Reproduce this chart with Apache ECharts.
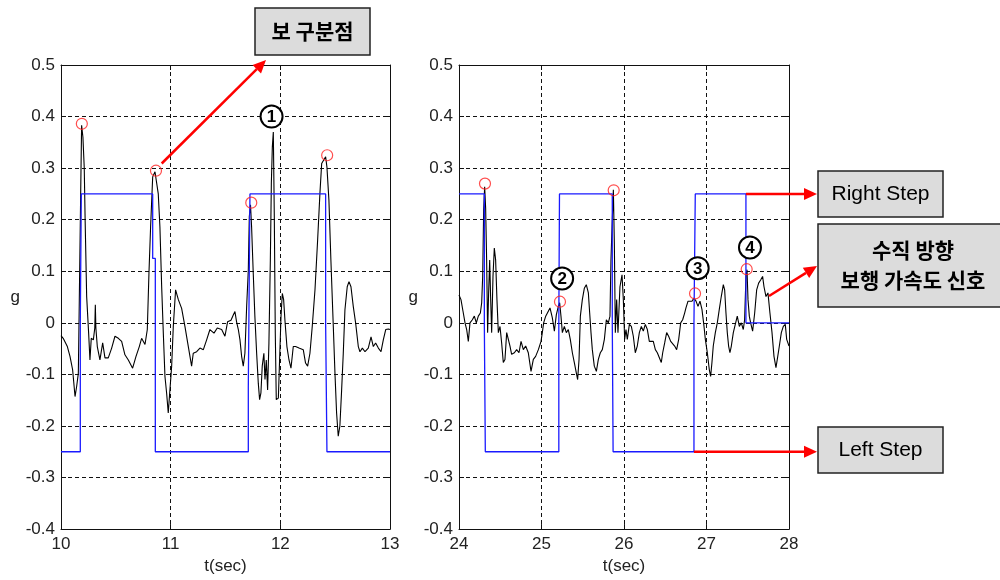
<!DOCTYPE html>
<html>
<head>
<meta charset="utf-8">
<script src="https://cdn.jsdelivr.net/npm/echarts@6/dist/echarts.min.js"></script>
<style>
html,body{margin:0;padding:0;background:#fff;}
#chart{width:1000px;height:580px;}
</style>
</head>
<body>
<div id="chart"></div>
<script>
// ---------- DATA ----------
const yTicks = [-0.4, -0.3, -0.2, -0.1, 0, 0.1, 0.2, 0.3, 0.4, 0.5];
const leftXRange = [10, 13];
const rightXRange = [24, 28];

// vertical walking acceleration signal, left panel (t, g)
const leftT = [10.0,10.02,10.036,10.058,10.082,10.106,10.128,10.143,10.158,10.167,10.179,10.188,10.2,10.212,10.22,10.234,10.252,10.264,10.276,10.295,10.308,10.313,10.318,10.331,10.355,10.38,10.401,10.431,10.462,10.492,10.523,10.553,10.583,10.614,10.653,10.684,10.714,10.735,10.766,10.787,10.802,10.817,10.836,10.857,10.866,10.875,10.887,10.902,10.918,10.933,10.948,10.963,10.978,10.994,11.009,11.024,11.045,11.07,11.1,11.13,11.161,11.191,11.206,11.237,11.267,11.298,11.328,11.358,11.395,11.425,11.465,11.495,11.519,11.55,11.571,11.586,11.601,11.617,11.632,11.647,11.662,11.677,11.693,11.708,11.717,11.728,11.738,11.753,11.768,11.784,11.799,11.811,11.823,11.835,11.85,11.86,11.872,11.884,11.896,11.909,11.918,11.927,11.936,11.945,11.954,11.963,11.982,11.997,12.006,12.018,12.03,12.042,12.06,12.079,12.097,12.118,12.139,12.17,12.209,12.23,12.249,12.27,12.291,12.316,12.34,12.361,12.377,12.395,12.413,12.425,12.443,12.461,12.483,12.498,12.513,12.528,12.543,12.559,12.574,12.589,12.61,12.626,12.644,12.665,12.687,12.711,12.726,12.748,12.772,12.802,12.827,12.848,12.869,12.894,12.918,12.939,12.961,12.985,13.0];
const leftG = [-0.025,-0.03,-0.028,-0.046,-0.065,-0.091,-0.143,-0.123,-0.098,0.045,0.244,0.383,0.36,0.3,0.2,0.051,-0.02,-0.072,-0.03,-0.033,-0.01,0.035,-0.01,-0.046,-0.072,-0.039,-0.068,-0.068,-0.049,-0.026,-0.03,-0.036,-0.062,-0.072,-0.088,-0.065,-0.046,-0.03,-0.042,-0.013,0.096,0.186,0.283,0.293,0.296,0.29,0.25,0.186,0.07,-0.02,-0.104,-0.136,-0.175,-0.178,-0.084,-0.007,0.064,0.045,0.028,-0.007,-0.046,-0.084,-0.059,-0.056,-0.049,-0.052,-0.033,-0.013,-0.02,-0.01,-0.013,-0.026,0.002,0.005,0.015,0.022,0.002,-0.013,-0.033,-0.065,-0.084,-0.059,0.032,0.102,0.206,0.229,0.186,0.096,0.012,-0.059,-0.117,-0.149,-0.136,-0.084,-0.059,-0.11,-0.072,-0.13,-0.039,0.122,0.27,0.341,0.37,0.206,-0.02,-0.149,-0.146,-0.146,0.012,0.057,0.045,0.005,-0.046,-0.072,-0.088,-0.046,-0.046,-0.049,-0.052,-0.078,-0.084,-0.059,-0.007,0.064,0.16,0.251,0.309,0.309,0.322,0.302,0.238,0.122,-0.007,-0.097,-0.175,-0.22,-0.2,-0.13,-0.059,0.025,0.07,0.08,0.07,0.032,-0.001,-0.046,-0.056,-0.049,-0.056,-0.049,-0.027,-0.046,-0.039,-0.049,-0.056,-0.033,-0.013,-0.012,-0.013];

// vertical walking acceleration signal, right panel (t, g)
const rightT = [24.0,24.024,24.048,24.073,24.093,24.113,24.133,24.162,24.186,24.21,24.234,24.259,24.275,24.287,24.299,24.311,24.323,24.335,24.347,24.359,24.372,24.384,24.396,24.412,24.428,24.444,24.46,24.477,24.497,24.517,24.537,24.557,24.578,24.598,24.618,24.638,24.671,24.699,24.727,24.752,24.78,24.808,24.84,24.873,24.901,24.929,24.962,24.994,25.01,25.026,25.051,25.075,25.103,25.131,25.156,25.18,25.204,25.22,25.236,25.253,25.277,25.301,25.325,25.349,25.374,25.398,25.422,25.438,25.455,25.471,25.495,25.519,25.543,25.568,25.584,25.6,25.616,25.64,25.665,25.689,25.713,25.737,25.762,25.786,25.81,25.83,25.842,25.855,25.871,25.883,25.895,25.911,25.927,25.951,25.976,25.992,26.008,26.024,26.04,26.065,26.089,26.113,26.137,26.161,26.186,26.21,26.234,26.258,26.283,26.307,26.331,26.355,26.38,26.404,26.428,26.452,26.469,26.493,26.517,26.541,26.566,26.59,26.614,26.638,26.663,26.687,26.711,26.735,26.751,26.776,26.8,26.824,26.848,26.873,26.897,26.921,26.945,26.97,26.986,27.01,27.034,27.05,27.066,27.082,27.107,27.131,27.155,27.179,27.204,27.22,27.236,27.252,27.268,27.284,27.301,27.325,27.349,27.373,27.398,27.422,27.446,27.462,27.479,27.491,27.503,27.519,27.535,27.559,27.584,27.608,27.632,27.656,27.68,27.697,27.721,27.745,27.769,27.794,27.818,27.842,27.858,27.883,27.907,27.931,27.955,27.972,28.0];
const rightG = [0.054,0.045,0.023,0.0,-0.013,-0.036,0.0,0.006,0.013,0.0,0.013,0.019,0.039,0.09,0.219,0.264,0.222,0.122,-0.019,0.058,0.122,0.045,-0.019,0.09,0.145,0.122,0.045,-0.019,-0.007,-0.039,-0.077,-0.071,-0.019,-0.019,-0.045,-0.061,-0.058,-0.052,-0.058,-0.036,-0.052,-0.045,-0.058,-0.094,-0.071,-0.065,-0.052,-0.036,-0.019,0.0,0.013,0.013,0.029,0.01,-0.016,0.016,0.032,0.039,0.013,-0.019,-0.007,-0.019,-0.013,-0.032,-0.058,-0.077,-0.097,-0.11,-0.071,0.013,0.045,0.067,0.074,0.058,0.019,-0.019,-0.052,-0.084,-0.094,-0.071,-0.058,-0.052,-0.032,0.006,0.0,0.013,0.122,0.186,0.258,0.154,-0.019,0.045,-0.019,0.07,0.093,0.045,-0.032,-0.013,-0.032,-0.003,-0.007,-0.026,-0.058,-0.045,-0.019,-0.007,-0.016,-0.003,-0.013,-0.036,-0.039,-0.036,-0.052,-0.058,-0.055,-0.077,-0.058,-0.039,-0.019,-0.026,-0.036,-0.036,-0.045,-0.052,-0.032,0.0,0.006,0.019,0.029,0.042,0.042,0.042,0.048,0.042,0.032,0.042,0.026,-0.007,-0.032,-0.058,-0.091,-0.104,-0.077,-0.045,-0.019,0.0,0.026,0.051,0.074,0.064,0.019,-0.019,-0.045,-0.058,-0.045,-0.019,-0.003,0.013,-0.007,0.0,-0.013,0.006,0.093,0.103,0.045,0.013,0.0,-0.016,0.019,0.064,0.077,0.083,0.09,0.07,0.051,0.058,0.019,-0.019,-0.065,-0.087,-0.071,-0.045,-0.019,-0.007,-0.003,-0.032,-0.045];

// Right/Left step signal (vertices of the step trace)
const leftStepT = [10,10.176,10.176,10.185,10.185,10.836,10.836,10.86,10.86,11.708,11.708,11.723,11.723,12.413,12.413,12.425,12.425,13];
const leftStepG = [-0.25,-0.25,0,0,0.25,0.25,0.125,0.125,-0.25,-0.25,-0.126,-0.126,0.25,0.25,0,0,-0.25,-0.25];
const rightStepT = [24,24.307,24.307,24.319,24.319,25.21,25.21,25.218,25.218,25.858,25.858,25.868,25.868,26.848,26.848,26.864,26.864,27.478,27.478,28];
const rightStepG = [0.25,0.25,0,0,-0.25,-0.25,0,0,0.25,0.25,0,0,-0.25,-0.25,0,0,0.25,0.25,0,0];

// detected step points (red circles)
const leftPeakT = [10.19, 10.866, 11.735, 12.427];
const leftPeakG = [0.386, 0.295, 0.233, 0.325];
const rightPeakT = [24.315, 25.224, 25.875, 26.861, 27.487];
const rightPeakG = [0.270, 0.041, 0.257, 0.057, 0.104];

// annotation texts
const xName = 't(sec)';
const yName = 'g';
const labelStepPoint = '보 구분점';
const labelRight = 'Right Step';
const labelLeft = 'Left Step';
const labelSignal = '수직 방향\n보행 가속도 신호';
const circledNums = ['1', '2', '3', '4'];

// ---------- CHART ----------
const zip = (a, b) => a.map((v, i) => [v, b[i]]);
const FONT = '"Liberation Sans", Arial, sans-serif';
const KFONT = '"Noto Sans CJK KR", "Noto Sans", sans-serif';

function xAx(gi, range, bottom) {
  return {
    type: 'value', gridIndex: gi, min: range[0], max: range[1], interval: 1,
    position: bottom ? 'bottom' : 'top',
    name: bottom ? xName : '', nameLocation: 'middle', nameGap: 27,
    nameTextStyle: { fontFamily: FONT, fontSize: 17, color: '#222' },
    axisLine: { show: true, onZero: false, lineStyle: { color: '#111', width: 1 } },
    axisTick: { show: true, inside: true, length: 5, lineStyle: { color: '#111' } },
    axisLabel: { show: bottom, fontFamily: FONT, fontSize: 17, color: '#222', margin: 7 },
    splitLine: { show: bottom, lineStyle: { type: [4, 3], color: '#111', width: 1 } }
  };
}
function yAx(gi, left) {
  return {
    type: 'value', gridIndex: gi, min: yTicks[0], max: yTicks[yTicks.length - 1], interval: 0.1,
    position: left ? 'left' : 'right',
    name: left ? yName : '', nameLocation: 'middle', nameRotate: 0, nameGap: 41,
    nameTextStyle: { fontFamily: FONT, fontSize: 17, color: '#222', padding: [0, 0, 10, 0] },
    axisLine: { show: true, onZero: false, lineStyle: { color: '#111', width: 1 } },
    axisTick: { show: true, inside: true, length: 5, lineStyle: { color: '#111' } },
    axisLabel: { show: left, fontFamily: FONT, fontSize: 17, color: '#222', margin: 6,
      formatter: v => String(+v.toFixed(1)) },
    splitLine: { show: left, lineStyle: { type: [4, 3], color: '#111', width: 1 } }
  };
}

const option = {
  animation: false,
  backgroundColor: '#fff',
  grid: [
    { left: 61, top: 65, width: 329, height: 465 },
    { left: 459, top: 65, width: 330, height: 465 }
  ],
  xAxis: [xAx(0, leftXRange, true), xAx(0, leftXRange, false), xAx(1, rightXRange, true), xAx(1, rightXRange, false)],
  yAxis: [yAx(0, true), yAx(0, false), yAx(1, true), yAx(1, false)],
  series: [
    { type: 'line', xAxisIndex: 0, yAxisIndex: 0, data: zip(leftT, leftG), showSymbol: false, symbol: 'none',
      lineStyle: { color: '#000', width: 1.1 }, z: 3 },
    { type: 'line', xAxisIndex: 0, yAxisIndex: 0, data: zip(leftStepT, leftStepG), showSymbol: false, symbol: 'none',
      lineStyle: { color: '#1a1aff', width: 1.3 }, z: 4 },
    { type: 'scatter', xAxisIndex: 0, yAxisIndex: 0, data: zip(leftPeakT, leftPeakG), symbol: 'circle', symbolSize: 11,
      itemStyle: { color: 'rgba(0,0,0,0)', borderColor: '#ff2020', borderWidth: 1.2 }, z: 5 },
    { type: 'line', xAxisIndex: 2, yAxisIndex: 2, data: zip(rightT, rightG), showSymbol: false, symbol: 'none',
      lineStyle: { color: '#000', width: 1.1 }, z: 3 },
    { type: 'line', xAxisIndex: 2, yAxisIndex: 2, data: zip(rightStepT, rightStepG), showSymbol: false, symbol: 'none',
      lineStyle: { color: '#1a1aff', width: 1.3 }, z: 4 },
    { type: 'scatter', xAxisIndex: 2, yAxisIndex: 2, data: zip(rightPeakT, rightPeakG), symbol: 'circle', symbolSize: 11,
      itemStyle: { color: 'rgba(0,0,0,0)', borderColor: '#ff2020', borderWidth: 1.2 }, z: 5 }
  ]
};

const chart = echarts.init(document.getElementById('chart'), null, { renderer: 'canvas' });
chart.setOption(option);

function P(si, t, g) { return chart.convertToPixel({ seriesIndex: si }, [t, g]); }
function arrow(x1, y1, x2, y2) {
  const L = 13, W = 6;
  const dx = x2 - x1, dy = y2 - y1, d = Math.hypot(dx, dy), ux = dx / d, uy = dy / d;
  const bx = x2 - ux * L, by = y2 - uy * L;
  return [
    { type: 'line', shape: { x1: x1, y1: y1, x2: bx, y2: by }, style: { stroke: '#f00', lineWidth: 2.5 }, z: 50 },
    { type: 'polygon', shape: { points: [[x2, y2], [bx - uy * W, by + ux * W], [bx + uy * W, by - ux * W]] },
      style: { fill: '#f00' }, z: 50 }
  ];
}
function box(x, y, w, h, text, font, lh) {
  return [
    { type: 'rect', shape: { x: x, y: y, width: w, height: h },
      style: { fill: '#dcdcdc', stroke: '#222', lineWidth: 1.5 }, z: 60 },
    { type: 'text', x: x + w / 2, y: y + h / 2,
      style: { text: text, font: font, fill: '#000', align: 'center', verticalAlign: 'middle',
        textAlign: 'center', textVerticalAlign: 'middle', lineHeight: lh || 24 }, z: 61 }
  ];
}
function circled(cx, cy, s) {
  return [
    { type: 'circle', shape: { cx: cx, cy: cy, r: 11 }, style: { fill: '#fff', stroke: '#000', lineWidth: 2 }, z: 40 },
    { type: 'text', x: cx, y: cy + 1, style: { text: s, font: 'bold 17px ' + FONT, fill: '#000',
      align: 'center', verticalAlign: 'middle', textAlign: 'center', textVerticalAlign: 'middle' }, z: 41 }
  ];
}

const els = [];
// "보 구분점" box and arrow
els.push(...box(255, 8, 115, 47, labelStepPoint, 'bold 21px ' + KFONT));
{
  const s = P(0, 10.918, 0.309);
  els.push(...arrow(s[0], s[1], 266, 60));
}
// Right Step
els.push(...box(818, 171, 125, 46, labelRight, '21px ' + FONT));
{
  const s = P(4, 27.478, 0.25);
  els.push(...arrow(s[0], s[1], 817, s[1]));
}
// Signal label
els.push(...box(818, 224, 190, 83, labelSignal, 'bold 21px ' + KFONT, 30));
{
  const s = P(3, 27.758, 0.052);
  els.push(...arrow(s[0], s[1], 817, 266));
}
// Left Step
els.push(...box(818, 427, 125, 46, labelLeft, '21px ' + FONT));
{
  const s = P(4, 26.848, -0.25);
  els.push(...arrow(s[0], s[1], 817, s[1]));
}
// circled numbers
{
  const c1 = P(0, 11.92, 0.40); els.push(...circled(c1[0], c1[1], circledNums[0]));
  const c2 = P(3, 25.25, 0.086); els.push(...circled(c2[0], c2[1], circledNums[1]));
  const c3 = P(3, 26.893, 0.106); els.push(...circled(c3[0], c3[1], circledNums[2]));
  const c4 = P(3, 27.527, 0.146); els.push(...circled(c4[0], c4[1], circledNums[3]));
}
chart.setOption({ graphic: { elements: els } });
</script>
</body>
</html>
